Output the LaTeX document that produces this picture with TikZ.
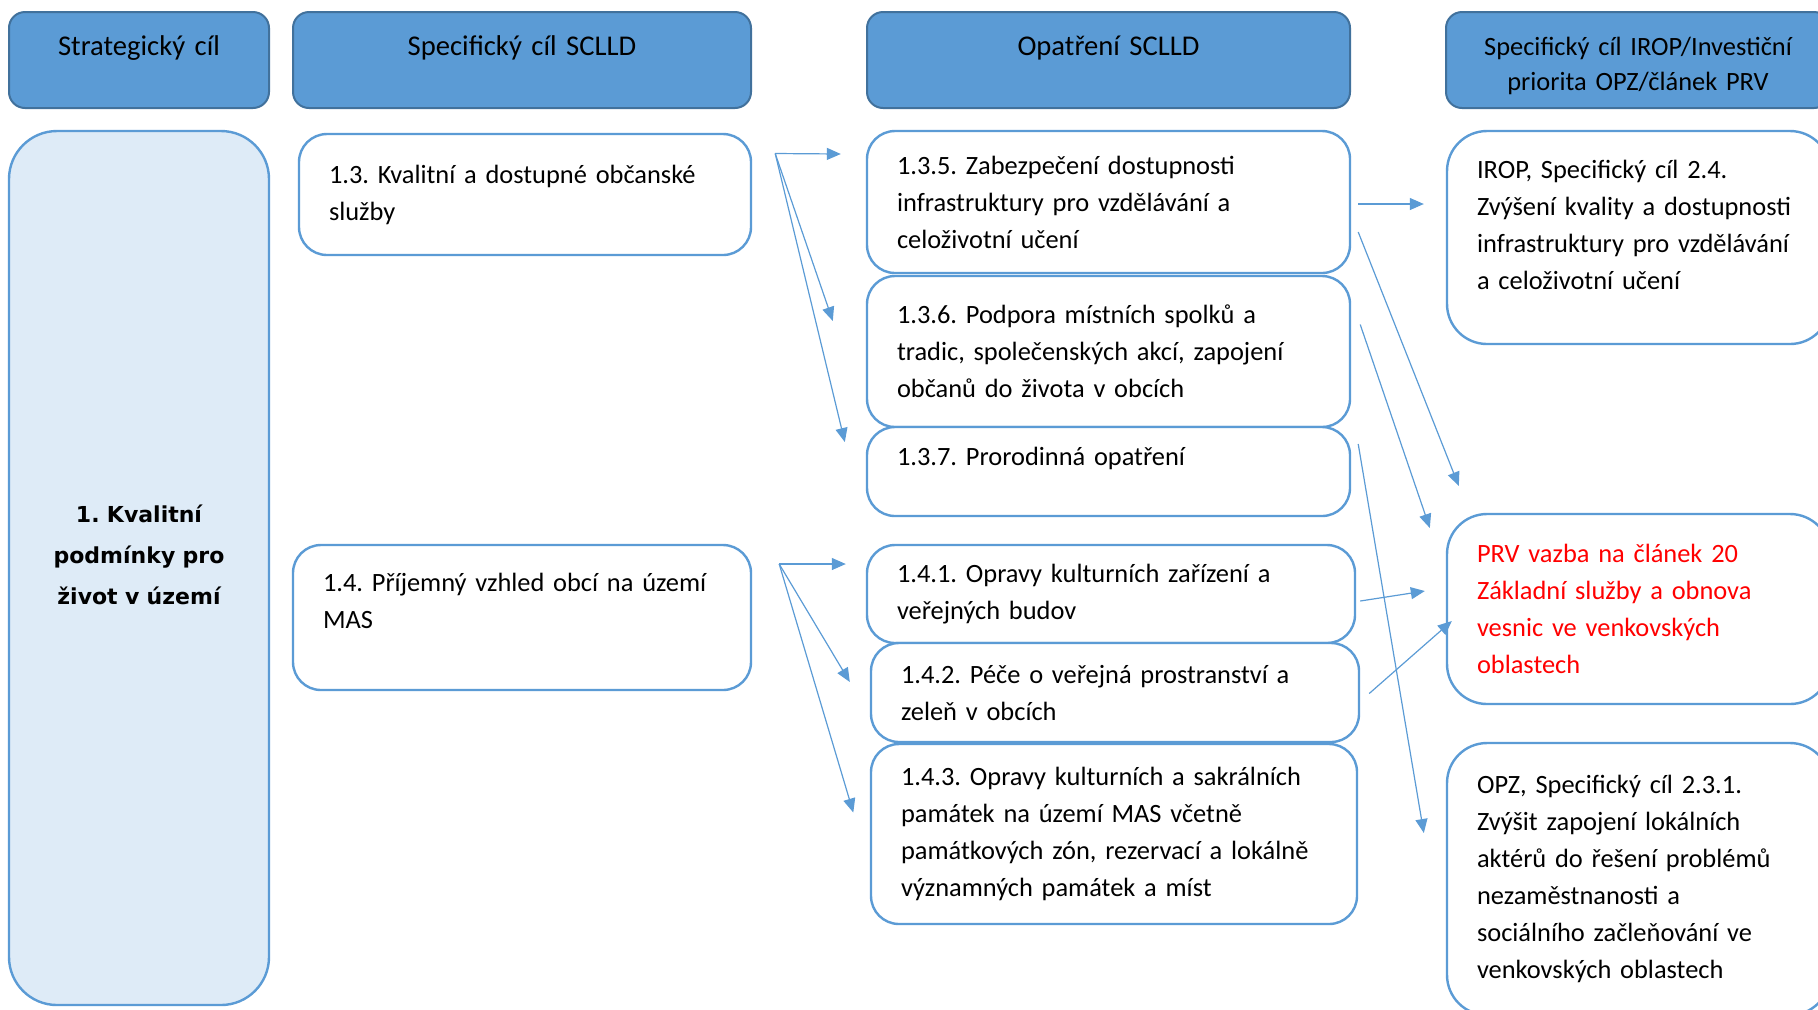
\documentclass[tikz,border=0pt]{standalone}
\usepackage{fontspec}
\setmainfont{Carlito}
\newfontfamily\goalfont{DejaVu Sans}
\usetikzlibrary{arrows.meta,calc}
\definecolor{hdrblue}{HTML}{5B9BD5}
\definecolor{hdrline}{HTML}{41719C}
\definecolor{goalfill}{HTML}{DEEBF7}
\definecolor{prvred}{HTML}{FF0000}
\frenchspacing

\begin{document}
\begin{tikzpicture}[x=0.5pt,y=-0.5pt,
  hdr/.style={draw=hdrline, fill=hdrblue, line width=1pt, rounded corners=8pt,
    align=center, inner xsep=4pt, inner ysep=0pt, minimum height=48pt,
    text height=21.5pt, text depth=26.5pt,
    font=\fontsize{14.3}{17.5}\selectfont},
  cell/.style={draw=hdrblue, fill=white, line width=1.2pt, rounded corners=14pt,
    align=left, inner xsep=15pt, inner ysep=0pt,
    font=\fontsize{13.2}{18.5}\selectfont},
  goalbox/.style={cell, fill=goalfill, rounded corners=24pt, align=center,
    font=\goalfont\bfseries\fontsize{11}{20.5}\selectfont},
  prog/.style={cell, rounded corners=20pt},
  link/.style={draw=hdrblue, line width=0.6pt, -{Triangle[length=7pt,width=6pt]}}]
  \useasboundingbox (0,0) rectangle (1818,1009);
  \clip (0,0) rectangle (1818,1009);

  % Headers
  \node[hdr, text width=122pt] (h1) at (139,60) {Strategický cíl};
  \node[hdr, text width=221pt] (h2) at (522,60) {Specifický cíl SCLLD};
  \node[hdr, text width=233.5pt] (h3) at (1108.5,60) {Opatření SCLLD};
  \node[hdr, text width=184pt, font=\fontsize{13.2}{17.5}\selectfont] (h4) at (1638,60)
    {Specifický cíl IROP/Investiční\\priorita OPZ/článek PRV};

  % Strategic goal
  \node[goalbox, text width=100pt, minimum height=437pt, text depth=54pt] (goal) at (139,568)
    {1. Kvalitní\\podmínky pro\\život v území};

  % Specific goals SCLLD
  \node[cell, text width=196pt, minimum height=60.5pt] (s13) at (525,194.5)
    {1.3. Kvalitní a dostupné občanské\\služby};
  \node[cell, text width=199pt, minimum height=72.5pt, text depth=35.5pt] (s14) at (522,617.5)
    {\makebox[\linewidth][s]{1.4. Příjemný vzhled obcí na území}\\MAS};

  % Measures SCLLD
  \node[cell, text width=211.5pt, minimum height=71pt] (o135) at (1108.5,202)
    {1.3.5. Zabezpečení dostupnosti\\infrastruktury pro vzdělávání a\\celoživotní učení};
  \node[cell, text width=211.5pt, minimum height=75.5pt] (o136) at (1108.5,351.5)
    {1.3.6. Podpora místních spolků a\\tradic, společenských akcí, zapojení\\občanů do života v obcích};
  \node[cell, text width=211.5pt, minimum height=44.5pt, text depth=15pt] (o137) at (1108.5,471.5)
    {1.3.7. Prorodinná opatření};
  \node[cell, text width=214pt, minimum height=49pt] (o141) at (1111,594)
    {1.4.1. Opravy kulturních zařízení a\\veřejných budov};
  \node[cell, text width=214pt, minimum height=49.5pt] (o142) at (1115,692.5)
    {1.4.2. Péče o veřejná prostranství a\\zeleň v obcích};
  \node[cell, text width=213pt, minimum height=90pt] (o143) at (1114,834)
    {1.4.3. Opravy kulturních a sakrálních\\památek na území MAS včetně\\památkových zón, rezervací a lokálně\\významných památek a míst};

  % Operational programmes
  \node[prog, text width=161.5pt, minimum height=106.5pt, text depth=68.5pt] (irop) at (1638.5,237.5)
    {IROP, Specifický cíl 2.4.\\Zvýšení kvality a dostupnosti\\infrastruktury pro vzdělávání\\a celoživotní učení};
  \node[prog, text width=161.5pt, minimum height=95pt, text=prvred] (prv) at (1638.5,609)
    {PRV vazba na článek 20\\Základní služby a obnova\\vesnic ve venkovských\\oblastech};
  \node[prog, text width=161.5pt, minimum height=136pt] (opz) at (1638.5,879)
    {OPZ, Specifický cíl 2.3.1.\\Zvýšit zapojení lokálních\\aktérů do řešení problémů\\nezaměstnanosti a\\sociálního začleňování ve\\venkovských oblastech};

  % Arrows to measures
  \coordinate (f13) at ($(s13.east)+(23,-41)$);
  \coordinate (f14) at ($(s14.east)+(27,-53.5)$);
  \draw[link] (f13) -- ($(o135.west)+(-25,-48)$);
  \draw[link] (f13) -- ($(o136.west)+(-33,-30.5)$);
  \draw[link] (f13) -- ($(o137.west)+(-21,-29.5)$);
  \draw[link] (f14) -- ($(o141.west)+(-20,-30)$);
  \draw[link] (f14) -- ($(o142.west)+(-20,-10.5)$);
  \draw[link] (f14) -- ($(o143.west)+(-16.5,-21.5)$);

  % Arrows to programmes
  \draw[link] ($(o135.east)+(7,2)$) -- ($(irop.west)+(-22,-33.5)$);
  \draw[link] ($(o135.east)+(7,30)$) -- ($(prv.west)+(13,-123)$);
  \draw[link] ($(o136.east)+(9,-27)$) -- ($(prv.west)+(-16,-81)$);
  \draw[link] ($(o137.east)+(7,-27.5)$) -- ($(opz.west)+(-22,-46)$);
  \draw[link] ($(o141.east)+(4,7)$) -- ($(prv.west)+(-21,-18)$);
  \draw[link] ($(o142.east)+(9,1)$) -- ($(prv.west)+(6,12)$);
\end{tikzpicture}
\end{document}
